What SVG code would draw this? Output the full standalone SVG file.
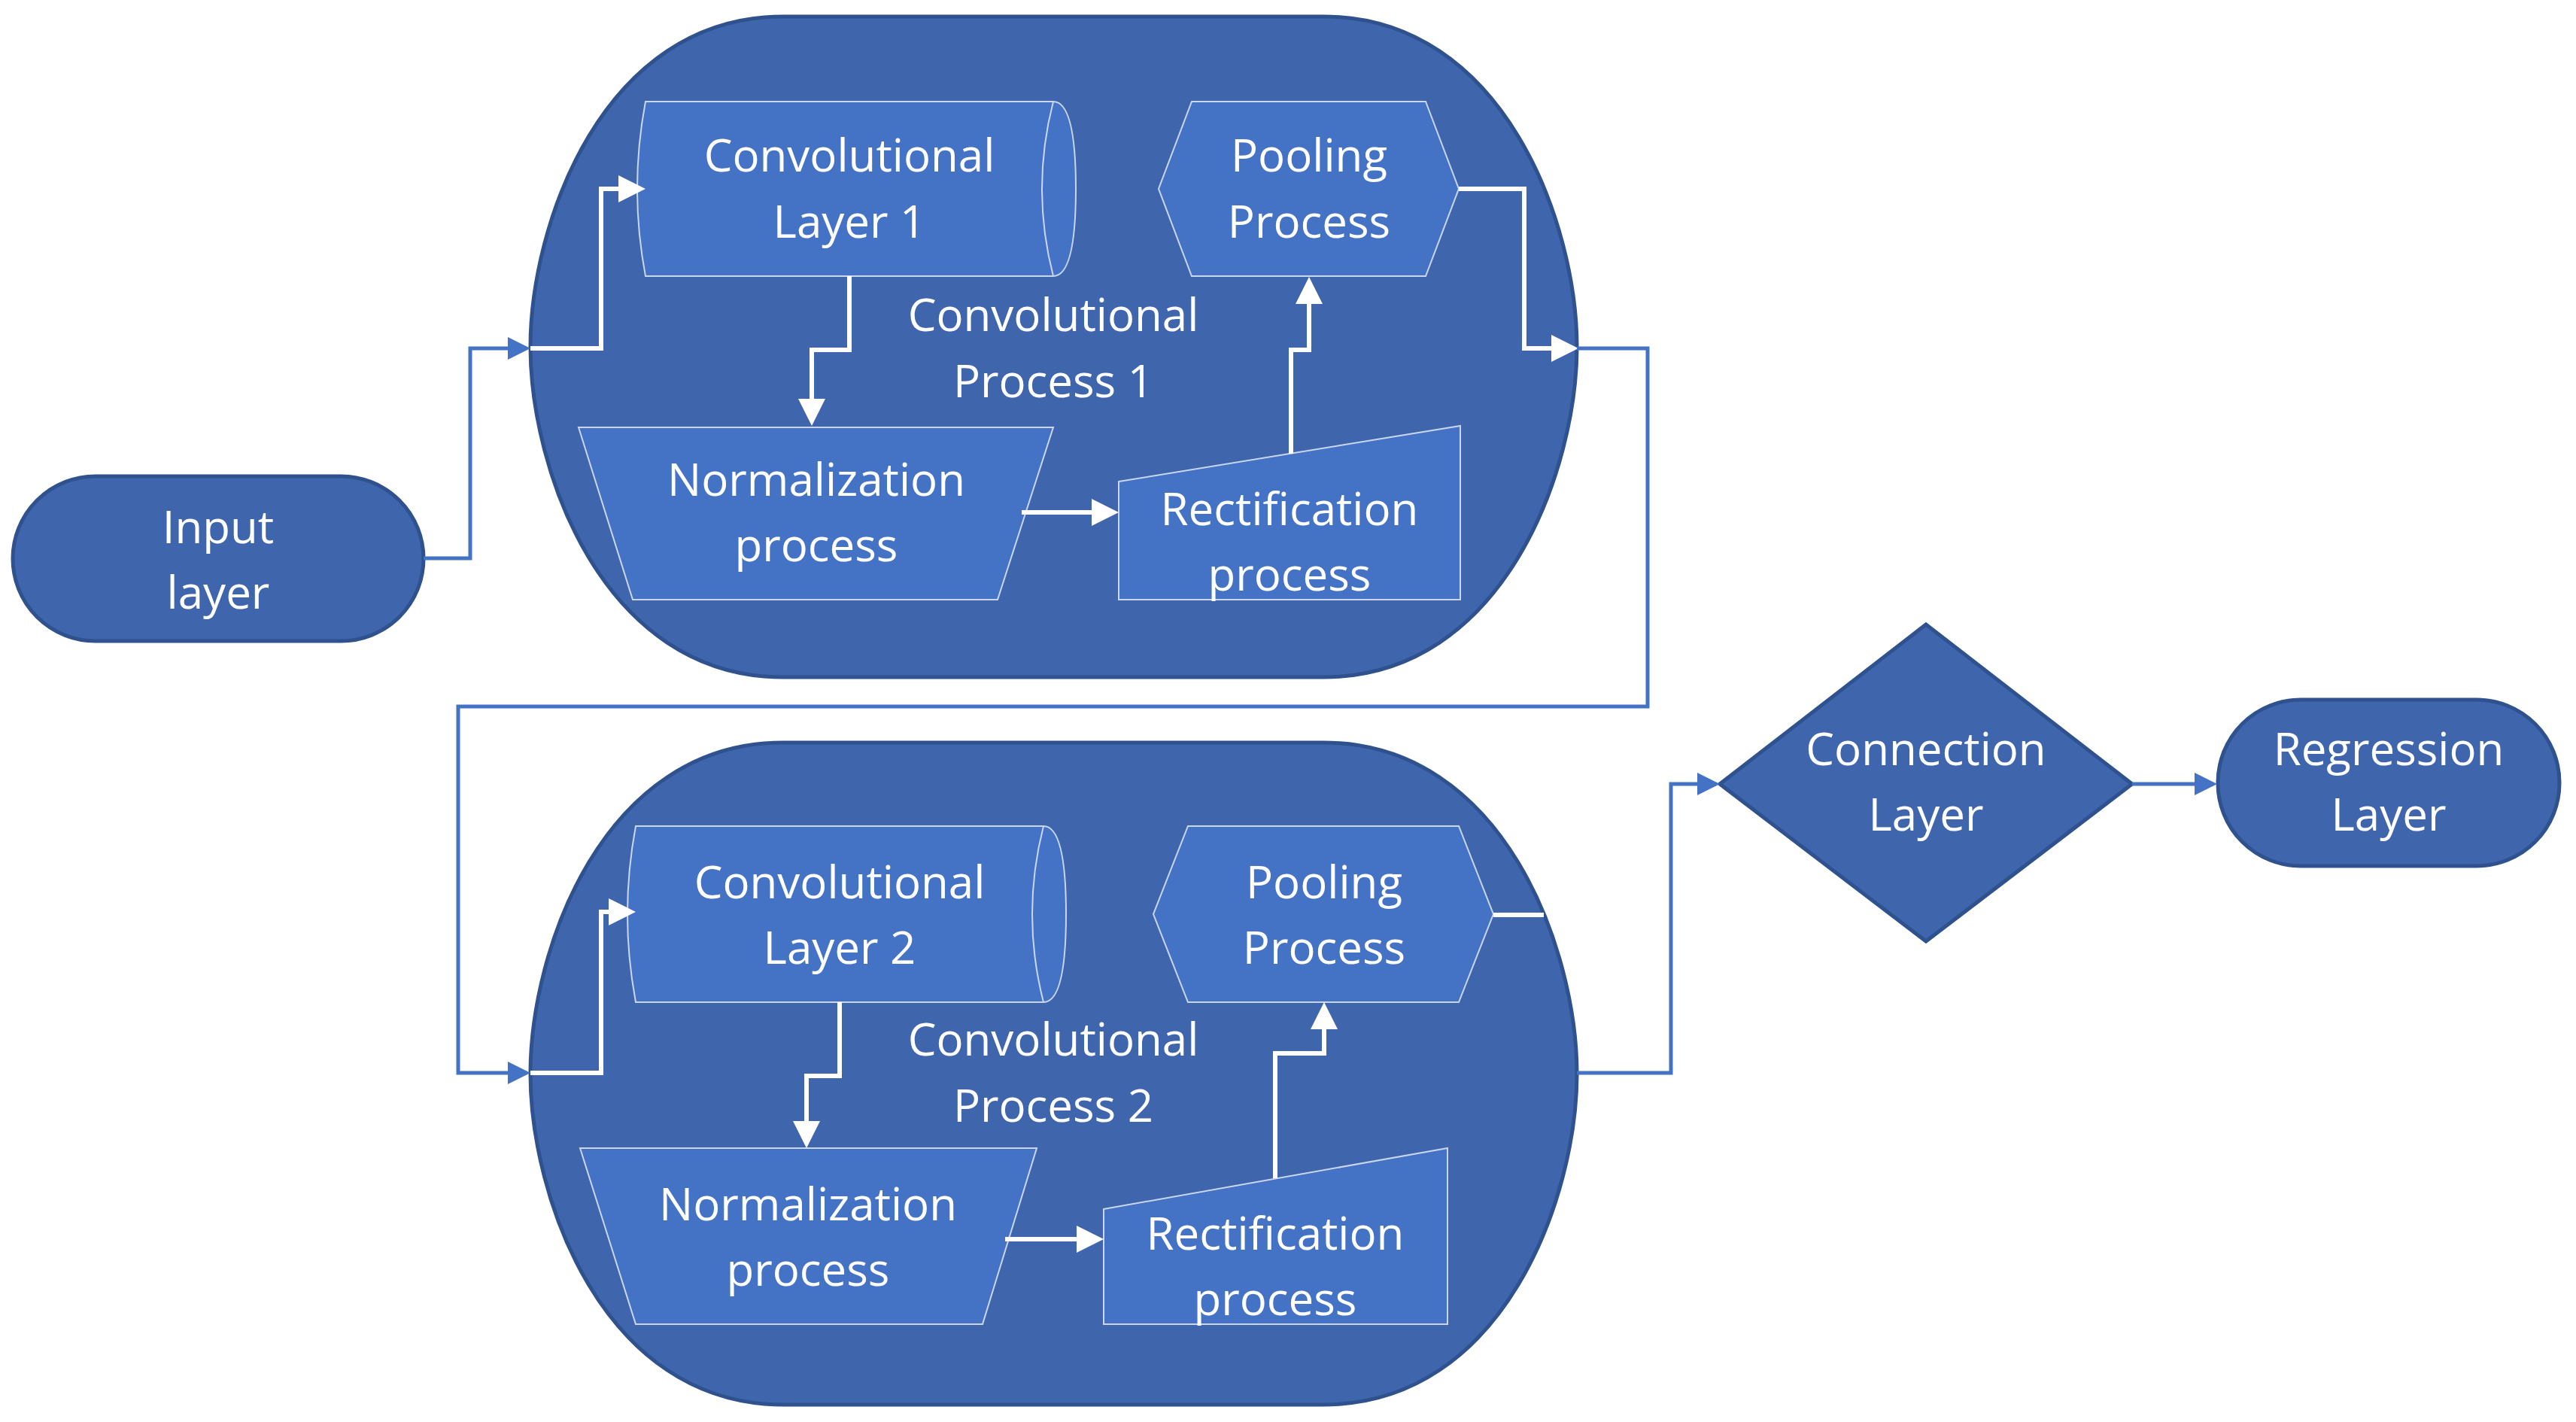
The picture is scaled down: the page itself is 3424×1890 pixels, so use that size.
<svg xmlns="http://www.w3.org/2000/svg" width="3424" height="1890" viewBox="0 0 3424 1890">
<style>
.cont{fill:#3F65AD;stroke:#2F528F;stroke-width:5}
.inner{fill:#4472C4;stroke:#C9D6EE;stroke-width:2}
.t{font-family:"Open Sans","Noto Sans",sans-serif;font-size:60px;fill:#fff;text-anchor:middle}
.w{fill:none;stroke:#fff;stroke-width:6}
.b{fill:none;stroke:#4472C4;stroke-width:5}
</style>
<defs>
<marker id="aw" markerWidth="6" markerHeight="6" refX="5" refY="3" orient="auto" markerUnits="strokeWidth"><path d="M0,0 L6,3 L0,6 Z" fill="#fff"/></marker>
<marker id="ab" markerWidth="6" markerHeight="6" refX="5" refY="3" orient="auto" markerUnits="strokeWidth"><path d="M0,0 L6,3 L0,6 Z" fill="#4472C4"/></marker>
</defs>
<rect width="3424" height="1890" fill="#fff"/>
<g id="process1"><path class="cont" d="M1041,22 H1759 C2000,22 2096,300 2096,461 C2096,622 2000,900 1759,900 H1041 C800,900 705,622 705,461 C705,300 800,22 1041,22 Z"/></g>
<g id="process2"><path class="cont" d="M1041,987 H1759 C2000,987 2096,1265 2096,1427 C2096,1589 2000,1867 1759,1867 H1041 C800,1867 705,1589 705,1427 C705,1265 800,987 1041,987 Z"/></g>
<g id="input"><rect class="cont" x="17" y="633" width="546" height="219" rx="110"/><text class="t" x="290" y="722">Input</text><text class="t" x="290" y="809">layer</text></g>
<g id="connection"><path class="cont" d="M2560,830 L2834,1042 L2560,1251 L2286,1042 Z"/><text class="t" x="2560" y="1017">Connection</text><text class="t" x="2560" y="1104">Layer</text></g>
<g id="regression"><rect class="cont" x="2948" y="930" width="454" height="221" rx="110"/><text class="t" x="3175" y="1017">Regression</text><text class="t" x="3175" y="1104">Layer</text></g>

<g id="conv1"><path class="inner" d="M858,135 H1400 Q1430,135 1430,251 Q1430,367 1400,367 H858 Q836,251 858,135 Z"/><path class="inner" fill="none" d="M1400,135 Q1370,251 1400,367"/><text class="t" x="1129" y="228">Convolutional</text><text class="t" x="1129" y="316">Layer 1</text></g>
<g id="pool1"><path class="inner" d="M1584,135 H1895 L1939,251 L1895,367 H1584 L1540,251 Z"/><text class="t" x="1740" y="228">Pooling</text><text class="t" x="1740" y="316">Process</text></g>
<g id="label1"><text class="t" x="1400" y="440">Convolutional</text><text class="t" x="1400" y="528">Process 1</text></g>
<g id="norm1"><path class="inner" d="M769,568 H1400 L1326,797 H841 Z"/><text class="t" x="1085" y="659">Normalization</text><text class="t" x="1085" y="746">process</text></g>
<g id="rect1"><path class="inner" d="M1487,640 L1941,566 V797 H1487 Z"/><text class="t" x="1714" y="698">Rectification</text><text class="t" x="1714" y="785">process</text></g>

<g id="conv2"><path class="inner" d="M845,1098 H1387 Q1417,1098 1417,1215 Q1417,1332 1387,1332 H845 Q823,1215 845,1098 Z"/><path class="inner" fill="none" d="M1387,1098 Q1357,1215 1387,1332"/><text class="t" x="1116" y="1194">Convolutional</text><text class="t" x="1116" y="1281">Layer 2</text></g>
<g id="pool2"><path class="inner" d="M1579,1098 H1939 L1985,1215 L1939,1332 H1579 L1533,1215 Z"/><text class="t" x="1760" y="1194">Pooling</text><text class="t" x="1760" y="1281">Process</text></g>
<g id="label2"><text class="t" x="1400" y="1403">Convolutional</text><text class="t" x="1400" y="1491">Process 2</text></g>
<g id="norm2"><path class="inner" d="M771,1526 H1378 L1306,1760 H845 Z"/><text class="t" x="1074" y="1622">Normalization</text><text class="t" x="1074" y="1709">process</text></g>
<g id="rect2"><path class="inner" d="M1467,1607 L1924,1526 V1760 H1467 Z"/><text class="t" x="1695" y="1661">Rectification</text><text class="t" x="1695" y="1748">process</text></g>

<g id="connectors">
<path class="b" marker-end="url(#ab)" d="M563,742 H625 V463 H700"/>
<path class="w" marker-end="url(#aw)" d="M705,463 H799 V251 H852"/>
<path class="w" marker-end="url(#aw)" d="M1129,367 V465 H1079 V560"/>
<path class="w" marker-end="url(#aw)" d="M1358,681 H1481"/>
<path class="w" marker-end="url(#aw)" d="M1716,603 V465 H1740 V374"/>
<path class="w" marker-end="url(#aw)" d="M1939,251 H2026 V463 H2092"/>
<path class="b" marker-end="url(#ab)" d="M2096,463 H2190 V939 H609 V1426 H700"/>
<path class="w" marker-end="url(#aw)" d="M705,1426 H799 V1212 H839"/>
<path class="w" marker-end="url(#aw)" d="M1116,1332 V1430 H1072 V1520"/>
<path class="w" marker-end="url(#aw)" d="M1336,1647 H1461"/>
<path class="w" marker-end="url(#aw)" d="M1695,1566 V1400 H1760 V1338"/>
<path class="w" d="M1985,1216 H2052"/>
<path class="b" marker-end="url(#ab)" d="M2096,1426 H2221 V1042 H2281"/>
<path class="b" marker-end="url(#ab)" d="M2834,1042 H2942"/>
</g>
</svg>
